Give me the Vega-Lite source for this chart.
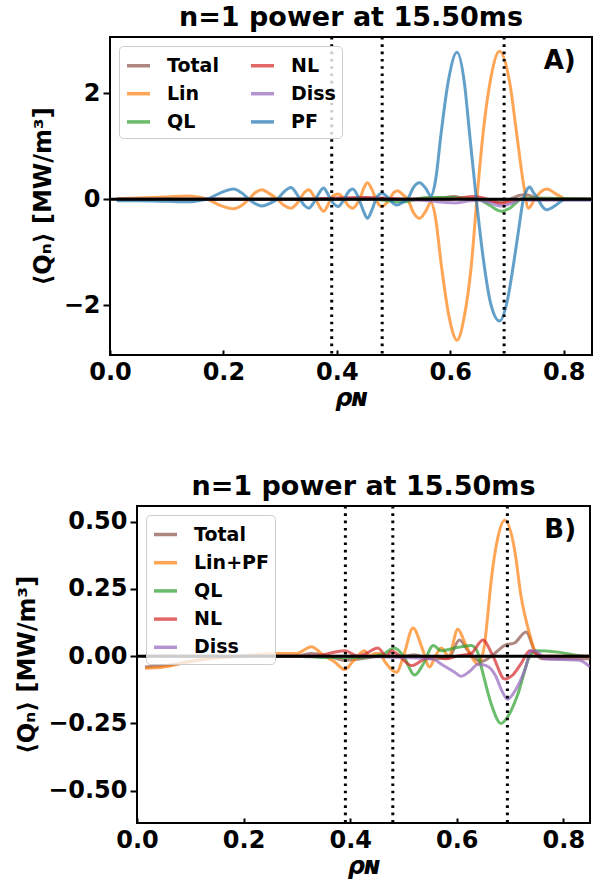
{
  "$schema": "https://vega.github.io/schema/vega-lite/v6.json",
  "background": "white",
  "padding": {"left": 14, "top": 2, "right": 4, "bottom": 4},
  "config": {
    "font": "DejaVu Sans",
    "view": {"stroke": "black", "strokeWidth": 2},
    "axis": {"grid": false, "domain": false, "labelFont": "DejaVu Sans", "labelFontSize": 24, "labelFontWeight": "bold", "labelColor": "black", "titleFont": "DejaVu Sans", "titleFontSize": 24, "titleFontWeight": "bold", "titleColor": "black", "tickColor": "black", "tickWidth": 2},
    "axisX": {"tickSize": -5, "labelPadding": 10, "titlePadding": 2, "labelFlush": false, "titleFontStyle": "italic"},
    "axisY": {"tickSize": 7, "labelPadding": 3, "titlePadding": 8},
    "title": {"fontSize": 27, "fontWeight": "bold", "color": "black", "font": "DejaVu Sans", "frame": "group", "anchor": "middle", "offset": 0},
    "legend": {"title": null, "orient": "top-left", "offset": 9, "fillColor": "rgba(255,255,255,0.8)", "strokeColor": "#cccccc", "cornerRadius": 4, "padding": 6, "labelFont": "DejaVu Sans", "labelFontSize": 19, "labelFontWeight": "bold", "labelColor": "black", "symbolType": "stroke", "symbolSize": 529, "symbolStrokeWidth": 3.5, "symbolOpacity": 0.7, "rowPadding": 4.2, "labelOffset": 15, "labelLimit": 300}
  },
  "datasets": {
    "vl": [{"rho": 0.391}, {"rho": 0.48}, {"rho": 0.695}],
    "a": [
      {"series":"Total","rho":0.012,"Q":0},{"series":"Total","rho":0.3,"Q":0},{"series":"Total","rho":0.4,"Q":0.01},{"series":"Total","rho":0.45,"Q":0.02},{"series":"Total","rho":0.5,"Q":0},{"series":"Total","rho":0.55,"Q":0.01},{"series":"Total","rho":0.58,"Q":0.02},{"series":"Total","rho":0.607,"Q":0.05},{"series":"Total","rho":0.625,"Q":0.01},{"series":"Total","rho":0.645,"Q":0},{"series":"Total","rho":0.665,"Q":-0.03},{"series":"Total","rho":0.69,"Q":-0.05},{"series":"Total","rho":0.71,"Q":0.02},{"series":"Total","rho":0.725,"Q":0.08},{"series":"Total","rho":0.737,"Q":0.08},{"series":"Total","rho":0.75,"Q":0.02},{"series":"Total","rho":0.76,"Q":0},{"series":"Total","rho":0.85,"Q":0},
      {"series":"Lin","rho":0.012,"Q":0.01},{"series":"Lin","rho":0.05,"Q":0.02},{"series":"Lin","rho":0.1,"Q":0.04},{"series":"Lin","rho":0.136,"Q":0.06},{"series":"Lin","rho":0.155,"Q":0.04},{"series":"Lin","rho":0.171,"Q":0},{"series":"Lin","rho":0.195,"Q":-0.12},{"series":"Lin","rho":0.218,"Q":-0.18},{"series":"Lin","rho":0.232,"Q":-0.12},{"series":"Lin","rho":0.245,"Q":0},{"series":"Lin","rho":0.257,"Q":0.13},{"series":"Lin","rho":0.268,"Q":0.18},{"series":"Lin","rho":0.282,"Q":0.1},{"series":"Lin","rho":0.295,"Q":0},{"series":"Lin","rho":0.307,"Q":-0.12},{"series":"Lin","rho":0.319,"Q":-0.17},{"series":"Lin","rho":0.328,"Q":-0.1},{"series":"Lin","rho":0.335,"Q":0},{"series":"Lin","rho":0.343,"Q":0.13},{"series":"Lin","rho":0.351,"Q":0.18},{"series":"Lin","rho":0.357,"Q":0.1},{"series":"Lin","rho":0.363,"Q":0},{"series":"Lin","rho":0.37,"Q":-0.15},{"series":"Lin","rho":0.377,"Q":-0.23},{"series":"Lin","rho":0.383,"Q":-0.14},{"series":"Lin","rho":0.389,"Q":0},{"series":"Lin","rho":0.396,"Q":0.08},{"series":"Lin","rho":0.403,"Q":0.1},{"series":"Lin","rho":0.408,"Q":0.06},{"series":"Lin","rho":0.413,"Q":0},{"series":"Lin","rho":0.42,"Q":-0.12},{"series":"Lin","rho":0.428,"Q":-0.17},{"series":"Lin","rho":0.436,"Q":-0.08},{"series":"Lin","rho":0.442,"Q":0.05},{"series":"Lin","rho":0.448,"Q":0.22},{"series":"Lin","rho":0.454,"Q":0.31},{"series":"Lin","rho":0.462,"Q":0.18},{"series":"Lin","rho":0.469,"Q":0},{"series":"Lin","rho":0.474,"Q":-0.1},{"series":"Lin","rho":0.48,"Q":-0.14},{"series":"Lin","rho":0.487,"Q":-0.08},{"series":"Lin","rho":0.493,"Q":0},{"series":"Lin","rho":0.5,"Q":0.12},{"series":"Lin","rho":0.507,"Q":0.16},{"series":"Lin","rho":0.516,"Q":0.09},{"series":"Lin","rho":0.525,"Q":0},{"series":"Lin","rho":0.535,"Q":-0.25},{"series":"Lin","rho":0.546,"Q":-0.36},{"series":"Lin","rho":0.557,"Q":-0.22},{"series":"Lin","rho":0.566,"Q":-0.06},{"series":"Lin","rho":0.574,"Q":-0.35},{"series":"Lin","rho":0.584,"Q":-1.22},{"series":"Lin","rho":0.598,"Q":-2.22},{"series":"Lin","rho":0.612,"Q":-2.66},{"series":"Lin","rho":0.625,"Q":-2.2},{"series":"Lin","rho":0.637,"Q":-1.27},{"series":"Lin","rho":0.647,"Q":0},{"series":"Lin","rho":0.658,"Q":1.25},{"series":"Lin","rho":0.67,"Q":2.19},{"series":"Lin","rho":0.687,"Q":2.79},{"series":"Lin","rho":0.705,"Q":2.19},{"series":"Lin","rho":0.717,"Q":1.25},{"series":"Lin","rho":0.729,"Q":0.3},{"series":"Lin","rho":0.738,"Q":-0.17},{"series":"Lin","rho":0.749,"Q":0},{"series":"Lin","rho":0.76,"Q":0.14},{"series":"Lin","rho":0.77,"Q":0.19},{"series":"Lin","rho":0.788,"Q":0.09},{"series":"Lin","rho":0.805,"Q":0},{"series":"Lin","rho":0.85,"Q":0},
      {"series":"QL","rho":0.012,"Q":0},{"series":"QL","rho":0.46,"Q":0},{"series":"QL","rho":0.5,"Q":-0.04},{"series":"QL","rho":0.52,"Q":-0.05},{"series":"QL","rho":0.54,"Q":0},{"series":"QL","rho":0.56,"Q":0.03},{"series":"QL","rho":0.6,"Q":0.03},{"series":"QL","rho":0.63,"Q":0.02},{"series":"QL","rho":0.65,"Q":0},{"series":"QL","rho":0.67,"Q":-0.12},{"series":"QL","rho":0.69,"Q":-0.23},{"series":"QL","rho":0.705,"Q":-0.17},{"series":"QL","rho":0.725,"Q":0},{"series":"QL","rho":0.74,"Q":0.02},{"series":"QL","rho":0.85,"Q":0},
      {"series":"NL","rho":0.012,"Q":0},{"series":"NL","rho":0.35,"Q":0},{"series":"NL","rho":0.4,"Q":0.02},{"series":"NL","rho":0.45,"Q":0.03},{"series":"NL","rho":0.48,"Q":0.02},{"series":"NL","rho":0.52,"Q":0},{"series":"NL","rho":0.6,"Q":0},{"series":"NL","rho":0.643,"Q":0.05},{"series":"NL","rho":0.665,"Q":0},{"series":"NL","rho":0.69,"Q":-0.08},{"series":"NL","rho":0.71,"Q":-0.03},{"series":"NL","rho":0.725,"Q":0},{"series":"NL","rho":0.85,"Q":0},
      {"series":"Diss","rho":0.012,"Q":0},{"series":"Diss","rho":0.45,"Q":0},{"series":"Diss","rho":0.55,"Q":-0.02},{"series":"Diss","rho":0.59,"Q":-0.06},{"series":"Diss","rho":0.61,"Q":-0.07},{"series":"Diss","rho":0.635,"Q":-0.03},{"series":"Diss","rho":0.65,"Q":-0.02},{"series":"Diss","rho":0.67,"Q":-0.07},{"series":"Diss","rho":0.69,"Q":-0.13},{"series":"Diss","rho":0.71,"Q":-0.07},{"series":"Diss","rho":0.725,"Q":0},{"series":"Diss","rho":0.74,"Q":-0.02},{"series":"Diss","rho":0.85,"Q":-0.02},
      {"series":"PF","rho":0.012,"Q":-0.03},{"series":"PF","rho":0.05,"Q":-0.03},{"series":"PF","rho":0.1,"Q":-0.04},{"series":"PF","rho":0.136,"Q":-0.05},{"series":"PF","rho":0.155,"Q":-0.03},{"series":"PF","rho":0.171,"Q":0},{"series":"PF","rho":0.195,"Q":0.12},{"series":"PF","rho":0.218,"Q":0.19},{"series":"PF","rho":0.232,"Q":0.12},{"series":"PF","rho":0.245,"Q":0},{"series":"PF","rho":0.257,"Q":-0.09},{"series":"PF","rho":0.268,"Q":-0.13},{"series":"PF","rho":0.282,"Q":-0.08},{"series":"PF","rho":0.295,"Q":0},{"series":"PF","rho":0.307,"Q":0.14},{"series":"PF","rho":0.319,"Q":0.22},{"series":"PF","rho":0.328,"Q":0.12},{"series":"PF","rho":0.335,"Q":0},{"series":"PF","rho":0.343,"Q":-0.12},{"series":"PF","rho":0.351,"Q":-0.17},{"series":"PF","rho":0.357,"Q":-0.1},{"series":"PF","rho":0.363,"Q":0},{"series":"PF","rho":0.37,"Q":0.14},{"series":"PF","rho":0.377,"Q":0.21},{"series":"PF","rho":0.383,"Q":0.12},{"series":"PF","rho":0.389,"Q":0},{"series":"PF","rho":0.396,"Q":-0.1},{"series":"PF","rho":0.403,"Q":-0.14},{"series":"PF","rho":0.408,"Q":-0.08},{"series":"PF","rho":0.413,"Q":0},{"series":"PF","rho":0.42,"Q":0.13},{"series":"PF","rho":0.428,"Q":0.19},{"series":"PF","rho":0.436,"Q":0.08},{"series":"PF","rho":0.442,"Q":-0.08},{"series":"PF","rho":0.448,"Q":-0.25},{"series":"PF","rho":0.454,"Q":-0.36},{"series":"PF","rho":0.462,"Q":-0.2},{"series":"PF","rho":0.469,"Q":0},{"series":"PF","rho":0.474,"Q":0.08},{"series":"PF","rho":0.48,"Q":0.11},{"series":"PF","rho":0.487,"Q":0.06},{"series":"PF","rho":0.493,"Q":0},{"series":"PF","rho":0.5,"Q":-0.08},{"series":"PF","rho":0.507,"Q":-0.11},{"series":"PF","rho":0.516,"Q":-0.06},{"series":"PF","rho":0.525,"Q":0},{"series":"PF","rho":0.535,"Q":0.22},{"series":"PF","rho":0.546,"Q":0.31},{"series":"PF","rho":0.557,"Q":0.2},{"series":"PF","rho":0.566,"Q":0.06},{"series":"PF","rho":0.574,"Q":0.35},{"series":"PF","rho":0.584,"Q":1.25},{"series":"PF","rho":0.596,"Q":2.19},{"series":"PF","rho":0.612,"Q":2.77},{"series":"PF","rho":0.625,"Q":2.19},{"series":"PF","rho":0.634,"Q":1.25},{"series":"PF","rho":0.646,"Q":0},{"series":"PF","rho":0.658,"Q":-1.1},{"series":"PF","rho":0.672,"Q":-2.0},{"series":"PF","rho":0.687,"Q":-2.3},{"series":"PF","rho":0.7,"Q":-1.95},{"series":"PF","rho":0.712,"Q":-1.2},{"series":"PF","rho":0.721,"Q":-0.55},{"series":"PF","rho":0.729,"Q":0},{"series":"PF","rho":0.734,"Q":0.15},{"series":"PF","rho":0.74,"Q":0.23},{"series":"PF","rho":0.747,"Q":0.12},{"series":"PF","rho":0.755,"Q":0},{"series":"PF","rho":0.762,"Q":-0.13},{"series":"PF","rho":0.77,"Q":-0.2},{"series":"PF","rho":0.788,"Q":-0.1},{"series":"PF","rho":0.802,"Q":0},{"series":"PF","rho":0.85,"Q":0}
    ],
    "b": [
      {"series":"Total","rho":0.015,"Q":-0.04},{"series":"Total","rho":0.05,"Q":-0.035},{"series":"Total","rho":0.1,"Q":-0.02},{"series":"Total","rho":0.15,"Q":-0.005},{"series":"Total","rho":0.2,"Q":0},{"series":"Total","rho":0.3,"Q":0},{"series":"Total","rho":0.327,"Q":0.01},{"series":"Total","rho":0.36,"Q":0},{"series":"Total","rho":0.39,"Q":-0.015},{"series":"Total","rho":0.42,"Q":-0.01},{"series":"Total","rho":0.46,"Q":0},{"series":"Total","rho":0.5,"Q":0},{"series":"Total","rho":0.52,"Q":0.005},{"series":"Total","rho":0.552,"Q":-0.01},{"series":"Total","rho":0.585,"Q":-0.005},{"series":"Total","rho":0.605,"Q":0.06},{"series":"Total","rho":0.621,"Q":0.02},{"series":"Total","rho":0.646,"Q":-0.02},{"series":"Total","rho":0.665,"Q":0},{"series":"Total","rho":0.69,"Q":0.04},{"series":"Total","rho":0.709,"Q":0.05},{"series":"Total","rho":0.73,"Q":0.09},{"series":"Total","rho":0.746,"Q":0.02},{"series":"Total","rho":0.759,"Q":-0.01},{"series":"Total","rho":0.85,"Q":-0.01},
      {"series":"Lin+PF","rho":0.015,"Q":-0.045},{"series":"Lin+PF","rho":0.05,"Q":-0.04},{"series":"Lin+PF","rho":0.1,"Q":-0.02},{"series":"Lin+PF","rho":0.133,"Q":-0.01},{"series":"Lin+PF","rho":0.195,"Q":0},{"series":"Lin+PF","rho":0.258,"Q":0.01},{"series":"Lin+PF","rho":0.3,"Q":0.01},{"series":"Lin+PF","rho":0.327,"Q":0.035},{"series":"Lin+PF","rho":0.352,"Q":0},{"series":"Lin+PF","rho":0.37,"Q":-0.02},{"series":"Lin+PF","rho":0.39,"Q":-0.05},{"series":"Lin+PF","rho":0.405,"Q":-0.02},{"series":"Lin+PF","rho":0.427,"Q":0.02},{"series":"Lin+PF","rho":0.437,"Q":0},{"series":"Lin+PF","rho":0.447,"Q":0.01},{"series":"Lin+PF","rho":0.455,"Q":0.01},{"series":"Lin+PF","rho":0.465,"Q":-0.02},{"series":"Lin+PF","rho":0.487,"Q":-0.06},{"series":"Lin+PF","rho":0.5,"Q":0},{"series":"Lin+PF","rho":0.518,"Q":0.105},{"series":"Lin+PF","rho":0.535,"Q":0.03},{"series":"Lin+PF","rho":0.549,"Q":-0.04},{"series":"Lin+PF","rho":0.56,"Q":0},{"series":"Lin+PF","rho":0.571,"Q":0.03},{"series":"Lin+PF","rho":0.585,"Q":0},{"series":"Lin+PF","rho":0.602,"Q":0.1},{"series":"Lin+PF","rho":0.615,"Q":0.05},{"series":"Lin+PF","rho":0.627,"Q":0},{"series":"Lin+PF","rho":0.64,"Q":-0.03},{"series":"Lin+PF","rho":0.646,"Q":-0.01},{"series":"Lin+PF","rho":0.652,"Q":0.04},{"series":"Lin+PF","rho":0.658,"Q":0.15},{"series":"Lin+PF","rho":0.664,"Q":0.27},{"series":"Lin+PF","rho":0.677,"Q":0.44},{"series":"Lin+PF","rho":0.69,"Q":0.505},{"series":"Lin+PF","rho":0.709,"Q":0.39},{"series":"Lin+PF","rho":0.72,"Q":0.23},{"series":"Lin+PF","rho":0.737,"Q":0.08},{"series":"Lin+PF","rho":0.749,"Q":0.01},{"series":"Lin+PF","rho":0.76,"Q":0},{"series":"Lin+PF","rho":0.85,"Q":0},
      {"series":"QL","rho":0.015,"Q":0},{"series":"QL","rho":0.3,"Q":0},{"series":"QL","rho":0.35,"Q":-0.005},{"series":"QL","rho":0.42,"Q":-0.005},{"series":"QL","rho":0.46,"Q":0.005},{"series":"QL","rho":0.483,"Q":0.03},{"series":"QL","rho":0.5,"Q":0},{"series":"QL","rho":0.521,"Q":-0.07},{"series":"QL","rho":0.537,"Q":-0.03},{"series":"QL","rho":0.556,"Q":0.04},{"series":"QL","rho":0.571,"Q":0.02},{"series":"QL","rho":0.596,"Q":0.03},{"series":"QL","rho":0.627,"Q":0.04},{"series":"QL","rho":0.638,"Q":0.02},{"series":"QL","rho":0.646,"Q":-0.04},{"series":"QL","rho":0.665,"Q":-0.18},{"series":"QL","rho":0.683,"Q":-0.25},{"series":"QL","rho":0.7,"Q":-0.21},{"series":"QL","rho":0.715,"Q":-0.14},{"series":"QL","rho":0.737,"Q":0},{"series":"QL","rho":0.75,"Q":0.02},{"series":"QL","rho":0.79,"Q":0.015},{"series":"QL","rho":0.84,"Q":0},{"series":"QL","rho":0.85,"Q":0},
      {"series":"NL","rho":0.015,"Q":0},{"series":"NL","rho":0.33,"Q":0},{"series":"NL","rho":0.39,"Q":0.02},{"series":"NL","rho":0.415,"Q":0},{"series":"NL","rho":0.43,"Q":0.01},{"series":"NL","rho":0.452,"Q":0.03},{"series":"NL","rho":0.468,"Q":0},{"series":"NL","rho":0.478,"Q":0.02},{"series":"NL","rho":0.49,"Q":0.005},{"series":"NL","rho":0.515,"Q":-0.035},{"series":"NL","rho":0.54,"Q":-0.01},{"series":"NL","rho":0.56,"Q":0},{"series":"NL","rho":0.58,"Q":-0.01},{"series":"NL","rho":0.6,"Q":0},{"series":"NL","rho":0.627,"Q":0.01},{"series":"NL","rho":0.649,"Q":0.06},{"series":"NL","rho":0.668,"Q":0},{"series":"NL","rho":0.69,"Q":-0.085},{"series":"NL","rho":0.705,"Q":-0.07},{"series":"NL","rho":0.72,"Q":-0.03},{"series":"NL","rho":0.737,"Q":0.02},{"series":"NL","rho":0.76,"Q":0},{"series":"NL","rho":0.85,"Q":0},
      {"series":"Diss","rho":0.015,"Q":0},{"series":"Diss","rho":0.4,"Q":0},{"series":"Diss","rho":0.5,"Q":-0.005},{"series":"Diss","rho":0.553,"Q":-0.01},{"series":"Diss","rho":0.575,"Q":-0.035},{"series":"Diss","rho":0.596,"Q":-0.06},{"series":"Diss","rho":0.608,"Q":-0.075},{"series":"Diss","rho":0.625,"Q":-0.055},{"series":"Diss","rho":0.64,"Q":-0.03},{"series":"Diss","rho":0.655,"Q":-0.035},{"series":"Diss","rho":0.672,"Q":-0.07},{"series":"Diss","rho":0.685,"Q":-0.13},{"series":"Diss","rho":0.695,"Q":-0.16},{"series":"Diss","rho":0.712,"Q":-0.12},{"series":"Diss","rho":0.728,"Q":-0.05},{"series":"Diss","rho":0.74,"Q":0.02},{"series":"Diss","rho":0.752,"Q":0.015},{"series":"Diss","rho":0.765,"Q":-0.01},{"series":"Diss","rho":0.83,"Q":-0.015},{"series":"Diss","rho":0.85,"Q":-0.04}
    ]
  },
  "spacing": 60,
  "resolve": {"scale": {"color": "independent"}, "legend": {"color": "independent"}},
  "vconcat": [
    {
      "width": 482,
      "height": 318,
      "title": "n=1 power at 15.50ms",
      "layer": [
        {
          "data": {"name": "a"},
          "mark": {"type": "line", "strokeWidth": 3, "opacity": 0.7, "interpolate": "monotone", "clip": true},
          "encoding": {
            "x": {"field": "rho", "type": "quantitative", "scale": {"domain": [0, 0.85], "nice": false, "zero": false}, "axis": {"title": "ρɴ", "values": [0, 0.2, 0.4, 0.6, 0.8], "format": ".1f"}},
            "y": {"field": "Q", "type": "quantitative", "scale": {"domain": [-2.94, 3.06], "nice": false, "zero": false}, "axis": {"title": "⟨Qₙ⟩ [MW/m³]", "values": [-2, 0, 2], "format": "d", "titlePadding": 8}},
            "color": {"field": "series", "type": "nominal", "sort": null, "scale": {"domain": ["Total", "Lin", "QL", "NL", "Diss", "PF"], "range": ["#8c564b", "#ff7f0e", "#2ca02c", "#d62728", "#9467bd", "#1f77b4"]}, "legend": {"columns": 2, "columnPadding": 25}}
          }
        },
        {
          "data": {"values": [{"Q": 0}]},
          "mark": {"type": "rule", "color": "black", "strokeWidth": 3},
          "encoding": {"y": {"field": "Q", "type": "quantitative"}}
        },
        {
          "data": {"name": "vl"},
          "mark": {"type": "rule", "color": "black", "strokeWidth": 3, "strokeDash": [2.6, 4.7]},
          "encoding": {"x": {"field": "rho", "type": "quantitative"}}
        },
        {
          "data": {"values": [{"label": "A)"}]},
          "mark": {"type": "text", "fontSize": 26, "fontWeight": "bold", "color": "black", "align": "center", "baseline": "middle"},
          "encoding": {"text": {"field": "label"}, "x": {"datum": 0.793}, "y": {"datum": 2.6}}
        }
      ]
    },
    {
      "hconcat": [
        {
          "width": 1,
          "height": 317,
          "view": {"stroke": null},
          "data": {"values": [{"v": 0}]},
          "mark": {"type": "point", "opacity": 0}
        },
        {
          "width": 453,
          "height": 317,
          "title": "n=1 power at 15.50ms",
          "layer": [
            {
              "data": {"name": "b"},
              "mark": {"type": "line", "strokeWidth": 3, "opacity": 0.7, "interpolate": "monotone", "clip": true},
              "encoding": {
                "x": {"field": "rho", "type": "quantitative", "scale": {"domain": [0, 0.85], "nice": false, "zero": false}, "axis": {"title": "ρɴ", "values": [0, 0.2, 0.4, 0.6, 0.8], "format": ".1f"}},
                "y": {"field": "Q", "type": "quantitative", "scale": {"domain": [-0.62, 0.558], "nice": false, "zero": false}, "axis": {"title": "⟨Qₙ⟩ [MW/m³]", "values": [-0.5, -0.25, 0, 0.25, 0.5], "format": ".2f"}},
                "color": {"field": "series", "type": "nominal", "sort": null, "scale": {"domain": ["Total", "Lin+PF", "QL", "NL", "Diss"], "range": ["#8c564b", "#ff7f0e", "#2ca02c", "#d62728", "#9467bd"]}, "legend": {"columns": 1}}
              }
            },
            {
              "data": {"values": [{"Q": 0}]},
              "mark": {"type": "rule", "color": "black", "strokeWidth": 3},
              "encoding": {"y": {"field": "Q", "type": "quantitative"}}
            },
            {
              "data": {"name": "vl"},
              "mark": {"type": "rule", "color": "black", "strokeWidth": 3, "strokeDash": [2.6, 4.7]},
              "encoding": {"x": {"field": "rho", "type": "quantitative"}}
            },
            {
              "data": {"values": [{"label": "B)"}]},
              "mark": {"type": "text", "fontSize": 26, "fontWeight": "bold", "color": "black", "align": "center", "baseline": "middle"},
              "encoding": {"text": {"field": "label"}, "x": {"datum": 0.794}, "y": {"datum": 0.468}}
            }
          ]
        }
      ],
      "spacing": 26,
      "bounds": "flush",
      "resolve": {"scale": {"color": "independent"}, "legend": {"color": "independent"}}
    }
  ]
}
